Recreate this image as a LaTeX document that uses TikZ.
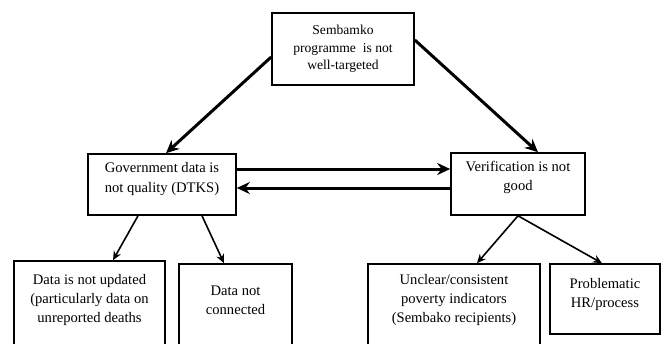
\documentclass[tikz,border=0pt]{standalone}
\usepackage{fontspec}
\setmainfont{Liberation Serif}
\usetikzlibrary{arrows.meta}
\tikzset{
  box/.style={rectangle, draw=black, fill=white, line width=1.6pt, inner sep=0pt},
  txt/.style={align=center, font=\fontsize{14.6}{19.2}\selectfont},
  toptxt/.style={align=center, font=\fontsize{13.6}{17.5}\selectfont},
  bigflow/.style={-{Stealth[length=13pt, width=12pt]}, line width=3pt},
  flow/.style={-{Stealth[length=9pt, width=8pt]}, line width=1.6pt},
}
\begin{document}
\begin{tikzpicture}[x=1pt, y=-1pt]
\useasboundingbox (0,0) rectangle (667,343);
\clip (0,0) rectangle (667,343);

% top problem
\node[box, minimum width=142pt, minimum height=72pt] (sem) at (343,49) {};
\node[toptxt] at (sem) {Sembamko\\programme\ \ is not\\well-targeted};

% causes
\node[box, minimum width=148pt, minimum height=61pt] (gov) at (162,184.5) {};
\node[txt] at (162,179) {Government data is\\not quality (DTKS)};
\node[box, minimum width=134pt, minimum height=62pt] (ver) at (518,184) {};
\node[txt] at (518,177.5) {Verification is not\\good};

% sub causes
\node[box, minimum width=151pt, minimum height=94pt] (upd) at (89.5,308) {};
\node[txt] at (89.5,300) {Data is not updated\\(particularly data on\\unreported deaths};
\node[box, minimum width=113pt, minimum height=91pt] (con) at (235.5,309.5) {};
\node[txt] at (235.5,300) {Data not\\connected};
\node[box, minimum width=172pt, minimum height=91pt] (ind) at (454,309.5) {};
\node[txt] at (454,300) {Unclear/consistent\\poverty indicators\\(Sembako recipients)};
\node[box, minimum width=110pt, minimum height=70pt] (hr) at (605,299) {};
\node[txt] at (605,294.5) {Problematic\\HR/process};

% connectors
\draw[bigflow] ([yshift=-8pt]sem.west) -- ([xshift=4pt]gov.north);
\draw[bigflow] ([yshift=9pt]sem.east) -- ([xshift=20pt]ver.north);
\draw[bigflow] ([yshift=15.5pt]gov.east) -- ([yshift=15pt]ver.west);
\draw[bigflow] ([yshift=-4pt]ver.west) -- ([yshift=-3.5pt]gov.east);
\draw[flow] ([xshift=-24pt]gov.south) -- ([xshift=23.5pt]upd.north);
\draw[flow] ([xshift=40pt]gov.south) -- ([xshift=-11.5pt]con.north);
\draw[flow] (ver.south) -- ([xshift=23pt]ind.north);
\draw[flow] (ver.south) -- ([xshift=-3pt]hr.north);
\end{tikzpicture}
\end{document}
